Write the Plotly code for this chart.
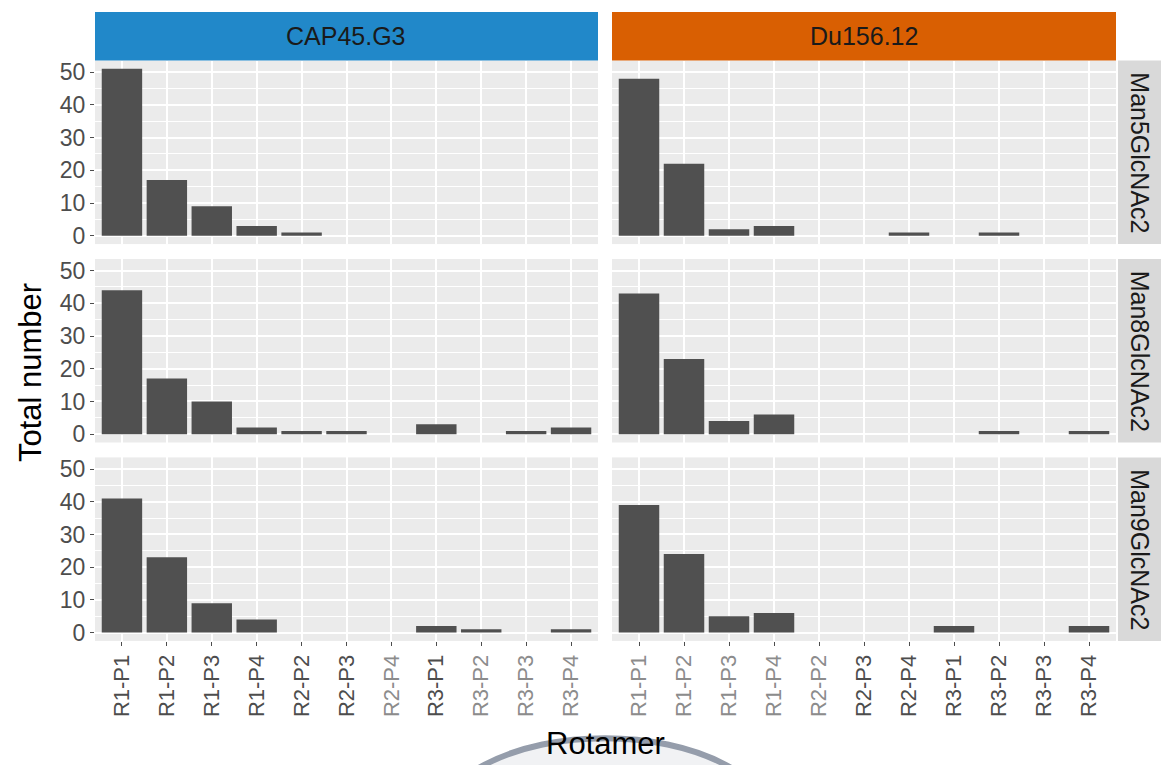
import plotly.graph_objects as go

# ---- data -------------------------------------------------------------
rotamers = ["R1-P1", "R1-P2", "R1-P3", "R1-P4", "R2-P2", "R2-P3",
            "R2-P4", "R3-P1", "R3-P2", "R3-P3", "R3-P4"]
strains = ["CAP45.G3", "Du156.12"]
glycans = ["Man5GlcNAc2", "Man8GlcNAc2", "Man9GlcNAc2"]

cap45_man5 = [51, 17, 9, 3, 1, 0, 0, 0, 0, 0, 0]
du156_man5 = [48, 22, 2, 3, 0, 0, 1, 0, 1, 0, 0]
cap45_man8 = [44, 17, 10, 2, 1, 1, 0, 3, 0, 1, 2]
du156_man8 = [43, 23, 4, 6, 0, 0, 0, 0, 1, 0, 1]
cap45_man9 = [41, 23, 9, 4, 0, 0, 0, 2, 1, 0, 1]
du156_man9 = [39, 24, 5, 6, 0, 0, 0, 2, 0, 0, 2]

counts = [[cap45_man5, du156_man5],
          [cap45_man8, du156_man8],
          [cap45_man9, du156_man9]]

y_ticks = [0, 10, 20, 30, 40, 50]

# ---- layout geometry (pixels) -----------------------------------------
W, H = 1161, 765
col_px = [(95, 598), (612, 1116)]
row_px = [(60, 245), (260, 445), (460, 645)]
strip_top = (11, 60)
strip_right = (1118, 1161)
strip_colors = ["#2188c9", "#d95f02"]

def px_x(v):
    return v / W

def px_y(v):
    return 1 - v / H

# shade of each bottom tick label per column
label_shade = [
    ["#4d4d4d"] * 6 + ["#8c8c8c", "#4d4d4d", "#8c8c8c", "#8c8c8c", "#8c8c8c"],
    ["#8c8c8c"] * 5 + ["#4d4d4d"] * 6,
]

fig = go.Figure()
layout = dict(
    width=W, height=H,
    margin=dict(l=0, r=0, t=0, b=0),
    paper_bgcolor="white",
    plot_bgcolor="#ebebeb",
    showlegend=False,
    bargap=0.1,
    font=dict(family="Liberation Sans, Arial, sans-serif", color="#4d4d4d"),
)

shapes = []
annotations = []

for r in range(3):
    for c in range(2):
        k = r * 2 + c + 1
        xa = "x" if k == 1 else f"x{k}"
        ya = "y" if k == 1 else f"y{k}"
        fig.add_trace(go.Bar(
            x=rotamers, y=counts[r][c], xaxis=xa, yaxis=ya,
            marker=dict(color="#505050", line=dict(width=0)),
            width=0.9, hoverinfo="x+y",
        ))
        bottom = r == 2
        left = c == 0
        layout["xaxis" if k == 1 else f"xaxis{k}"] = dict(
            domain=[px_x(col_px[c][0]), px_x(col_px[c][1])],
            anchor=ya,
            type="category",
            categoryorder="array", categoryarray=rotamers,
            range=[-0.6, 10.6],
            showgrid=True, gridcolor="white", gridwidth=1.6,
            zeroline=False, showline=False,
            ticks="outside" if bottom else "",
            ticklen=4, tickwidth=1.2, tickcolor="#4d4d4d",
            tickvals=rotamers,
            ticktext=[f'<span style="color:{label_shade[c][i]}">{lab}</span>'
                      for i, lab in enumerate(rotamers)],
            showticklabels=bottom,
            tickangle=-90,
            tickfont=dict(size=22, color="#4d4d4d"),
        )
        layout["yaxis" if k == 1 else f"yaxis{k}"] = dict(
            domain=[px_y(row_px[r][1]), px_y(row_px[r][0])],
            anchor=xa,
            range=[-2.55, 53.55],
            tickvals=y_ticks,
            showgrid=True, gridcolor="white", gridwidth=1.6,
            minor=dict(dtick=5, tick0=0, showgrid=True,
                       gridcolor="white", gridwidth=0.8),
            zeroline=False, showline=False,
            ticks="outside" if left else "",
            ticklen=4, tickwidth=1.2, tickcolor="#4d4d4d",
            showticklabels=left,
            tickfont=dict(size=23, color="#4d4d4d"),
        )

# column strips
for c, name in enumerate(strains):
    shapes.append(dict(
        type="rect", xref="paper", yref="paper",
        x0=px_x(col_px[c][0]), x1=px_x(col_px[c][1]),
        y0=px_y(strip_top[1]), y1=px_y(strip_top[0]),
        fillcolor=strip_colors[c], line=dict(width=0), layer="below",
    ))
    annotations.append(dict(
        xref="paper", yref="paper",
        x=px_x((col_px[c][0] + col_px[c][1]) / 2),
        y=px_y((strip_top[0] + strip_top[1]) / 2),
        text=name, showarrow=False,
        font=dict(size=25, color="#1a1a1a"),
        xanchor="center", yanchor="middle",
    ))

# row strips
for r, name in enumerate(glycans):
    shapes.append(dict(
        type="rect", xref="paper", yref="paper",
        x0=px_x(strip_right[0]), x1=px_x(strip_right[1]),
        y0=px_y(row_px[r][1]), y1=px_y(row_px[r][0]),
        fillcolor="#d9d9d9", line=dict(width=0), layer="below",
    ))
    annotations.append(dict(
        xref="paper", yref="paper",
        x=px_x(1140),
        y=px_y((row_px[r][0] + row_px[r][1]) / 2),
        text=name, showarrow=False, textangle=90,
        font=dict(size=25, color="#1a1a1a"),
        xanchor="center", yanchor="middle",
    ))

# soft grey arc beneath the x-axis title
shapes.append(dict(
    type="circle", xref="paper", yref="paper",
    x0=px_x(435), x1=px_x(775), y0=px_y(925), y1=px_y(743),
    fillcolor="#f1f2f4", line=dict(color="#959dab", width=6),
    layer="below",
))

# axis titles
annotations.append(dict(
    xref="paper", yref="paper", x=px_x(30), y=px_y(375),
    text="Total number", showarrow=False, textangle=-90,
    font=dict(size=31, color="black"),
    xanchor="center", yanchor="middle",
))
annotations.append(dict(
    xref="paper", yref="paper", x=px_x(605), y=px_y(748),
    text="Rotamer", showarrow=False,
    font=dict(size=31, color="black"),
    xanchor="center", yanchor="middle",
))

layout["shapes"] = shapes
layout["annotations"] = annotations
fig.update_layout(**layout)

fig.write_html("out.html")
